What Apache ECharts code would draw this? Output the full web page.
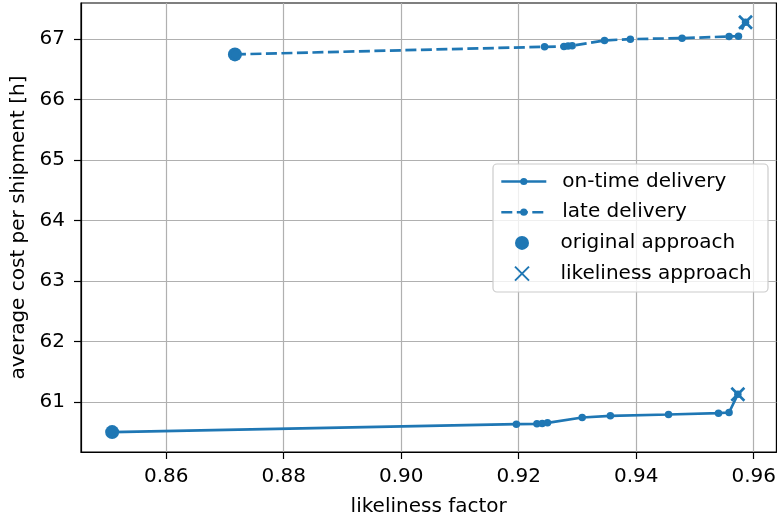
<!DOCTYPE html>
<html>
<head>
<meta charset="utf-8">
<script src="https://cdn.jsdelivr.net/npm/echarts@6/dist/echarts.min.js"></script>
<style>
html,body{margin:0;padding:0;background:#fff;}
#chart{width:779px;height:522px;}
</style>
</head>
<body>
<div id="chart"></div>
<script>
// ---- data ----
const xTicks = [0.86, 0.88, 0.90, 0.92, 0.94, 0.96];
const yTicks = [61, 62, 63, 64, 65, 66, 67];

const originalX = [0.8508, 0.8717];       // [on-time, late]
const originalY = [60.507, 66.748];
const likelinessX = [0.9573, 0.9586];     // [on-time, late]
const likelinessY = [61.132, 67.279];

const onTimeX = [0.9196, 0.9231, 0.9240, 0.9249, 0.9308, 0.9356, 0.9455, 0.9540, 0.9558];
const onTimeY = [60.638, 60.643, 60.650, 60.660, 60.748, 60.775, 60.798, 60.819, 60.831];
const lateX = [0.9244, 0.9277, 0.9284, 0.9291, 0.9346, 0.9390, 0.9478, 0.9558, 0.9574];
const lateY = [66.873, 66.880, 66.885, 66.890, 66.979, 67.000, 67.016, 67.044, 67.049];

const names = ['on-time delivery', 'late delivery', 'original approach', 'likeliness approach'];

// ---- build ----
const C0 = '#1f77b4';
const FONT = 'DejaVu Sans';
const FS = 20;

function pairs(xs, ys) { return xs.map((x, i) => [x, ys[i]]); }
const onTimeLine = [[originalX[0], originalY[0]]].concat(pairs(onTimeX, onTimeY), [[likelinessX[0], likelinessY[0]]]);
const lateLine = [[originalX[1], originalY[1]]].concat(pairs(lateX, lateY), [[likelinessX[1], likelinessY[1]]]);

const chart = echarts.init(document.getElementById('chart'), null, {renderer: 'canvas'});
const textStyle = {fontFamily: FONT, fontSize: FS, color: '#000'};

chart.setOption({
  animation: false,
  backgroundColor: '#fff',
  grid: {left: 81, right: 2, top: 3, bottom: 68, show: true, borderColor: '#000', borderWidth: 1.2, containLabel: false},
  xAxis: {
    type: 'value', min: 0.8455, max: 0.96386,
    name: 'likeliness factor', nameLocation: 'middle', nameGap: 45,
    nameTextStyle: textStyle,
    axisLine: {show: true, lineStyle: {color: '#000', width: 1.2}},
    axisTick: {show: true, inside: false, length: 7, lineStyle: {color: '#000', width: 1.2}, customValues: xTicks},
    axisLabel: {show: true, margin: 15, fontFamily: FONT, fontSize: FS, color: '#000', customValues: xTicks,
      formatter: v => v.toFixed(2)},
    splitLine: {show: true, lineStyle: {color: '#b0b0b0', width: 1.2}}
  },
  yAxis: {
    type: 'value', min: 60.178, max: 67.597,
    name: 'average cost per shipment [h]', nameLocation: 'middle', nameGap: 48,
    nameTextStyle: textStyle,
    axisLine: {show: true, lineStyle: {color: '#000', width: 1.2}},
    axisTick: {show: true, inside: false, length: 7, lineStyle: {color: '#000', width: 1.2}, customValues: yTicks},
    axisLabel: {show: true, margin: 16, fontFamily: FONT, fontSize: FS, color: '#000', customValues: yTicks,
      formatter: v => String(Math.round(v))},
    splitLine: {show: true, lineStyle: {color: '#b0b0b0', width: 1.2}}
  },
  graphic: [{
    type: 'rect', z: 3,
    shape: {x: 493, y: 164, width: 275, height: 128, r: 4},
    style: {fill: 'rgba(255,255,255,0.8)', stroke: '#cccccc', lineWidth: 1.2}
  }],
  legend: [{
    orient: 'vertical', left: 500, top: 171.5, padding: 0,
    itemWidth: 45, itemHeight: 9, itemGap: 10.7, selectedMode: false,
    data: [names[0], names[1]],
    lineStyle: {width: 2.6},
    textStyle: {fontFamily: FONT, fontSize: FS, color: '#000', lineHeight: 20, padding: [0, 0, 0, 11]}
  }, {
    orient: 'vertical', left: 514, top: 232.9, padding: 0,
    itemWidth: 45, itemHeight: 14, itemGap: 10.7, selectedMode: false,
    data: [names[2], names[3]],
    textStyle: {fontFamily: FONT, fontSize: FS, color: '#000', lineHeight: 20, padding: [0, 0, 0, 11]}
  }],
  series: [{
    name: names[0], type: 'line', data: onTimeLine,
    symbol: 'circle', symbolSize: 7.5, showAllSymbol: true,
    itemStyle: {color: C0}, lineStyle: {color: C0, width: 2.7, type: 'solid'},
    emphasis: {disabled: true}
  }, {
    name: names[1], type: 'line', data: lateLine,
    symbol: 'circle', symbolSize: 7.5, showAllSymbol: true,
    itemStyle: {color: C0}, lineStyle: {color: C0, width: 2.7, type: [11, 4.5]},
    emphasis: {disabled: true}
  }, {
    name: names[2], type: 'scatter', data: pairs(originalX, originalY),
    symbol: 'circle', symbolSize: 14,
    itemStyle: {color: C0, opacity: 1},
    emphasis: {disabled: true}
  }, {
    name: names[3], type: 'scatter', data: pairs(likelinessX, likelinessY),
    symbol: 'path://M0,0L10,10M10,0L0,10', symbolSize: 13, symbolKeepAspect: true,
    itemStyle: {color: C0, borderColor: C0, borderWidth: 2.6, opacity: 1},
    emphasis: {disabled: true}
  }]
});
</script>
</body>
</html>
